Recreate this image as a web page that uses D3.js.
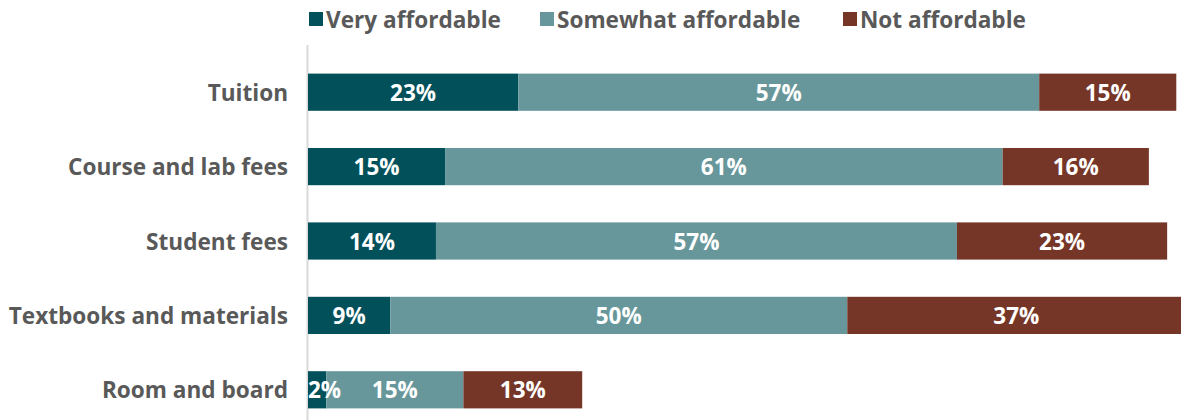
<!DOCTYPE html>
<html>
<head>
<meta charset="utf-8">
<script src="https://cdn.jsdelivr.net/npm/d3@7"></script>
<style>
  body { margin: 0; background: #fff; }
  text { font-family: "Open Sans", "Noto Sans", sans-serif; font-weight: 700; }
</style>
</head>
<body>
<div id="chart"></div>
<script>
// chart size
const width = 1181;
const height = 420;
const margin = { top: 45, right: 0, bottom: 0, left: 308 };

// data
const categories = ["Tuition", "Course and lab fees", "Student fees", "Textbooks and materials", "Room and board"];
const seriesNames = ["Very affordable", "Somewhat affordable", "Not affordable"];
const veryAffordable = [23, 15, 14, 9, 2];
const somewhatAffordable = [57, 61, 57, 50, 15];
const notAffordable = [15, 16, 23, 37, 13];
const colors = ["#02505A", "#67979B", "#763627"];

const rows = categories.map((c, i) => ({
  cat: c,
  "Very affordable": veryAffordable[i],
  "Somewhat affordable": somewhatAffordable[i],
  "Not affordable": notAffordable[i]
}));

const stacked = d3.stack().keys(seriesNames)(rows);

const svg = d3.select('#chart')
  .append('svg')
  .attr('width', width)
  .attr('height', height);

// x: 0..100 percent, extends past the right edge like the original
const x = d3.scaleLinear()
  .domain([0, 100])
  .range([margin.left, margin.left + 914]);

const y = d3.scaleBand()
  .domain(categories)
  .range([55, 427])
  .paddingInner(0.5)
  .paddingOuter(0.25);

const color = d3.scaleOrdinal().domain(seriesNames).range(colors);

// vertical axis line (drawn first so labels sit on top)
svg.append('line')
  .attr('x1', margin.left - 0.5)
  .attr('x2', margin.left - 0.5)
  .attr('y1', 45)
  .attr('y2', height)
  .attr('stroke', '#d9d9d9')
  .attr('stroke-width', 2);

// bars
svg.append('g').selectAll('g')
  .data(stacked)
  .enter().append('g')
  .attr('fill', d => color(d.key))
  .selectAll('rect')
  .data(d => d)
  .enter().append('rect')
  .attr('x', d => x(d[0]))
  .attr('y', d => y(d.data.cat))
  .attr('width', d => x(d[1]) - x(d[0]))
  .attr('height', y.bandwidth());

// value labels on their own layer, nudged right if they'd spill past the axis
const segments = stacked.flatMap(s => s.map(d => d));
svg.append('g').selectAll('text')
  .data(segments)
  .enter().append('text')
  .attr('x', d => (x(d[0]) + x(d[1])) / 2)
  .attr('y', d => y(d.data.cat) + y.bandwidth() / 2)
  .attr('dy', '0.38em')
  .attr('text-anchor', 'middle')
  .attr('fill', '#fff')
  .style('font-size', '22.5px')
  .text(d => (d[1] - d[0]) + '%')
  .each(function(d) {
    const w = this.getComputedTextLength();
    const cx = (x(d[0]) + x(d[1])) / 2;
    if (cx - w / 2 < margin.left) d3.select(this).attr('x', margin.left + w / 2);
  });

// category labels
const yAxis = d3.axisLeft(y).tickSize(0).tickPadding(20);
const yg = svg.append('g')
  .attr('transform', `translate(${margin.left},0)`)
  .call(yAxis);
yg.select('.domain').remove();
yg.selectAll('text')
  .attr('fill', '#595959')
  .attr('dy', '0.38em')
  .style('font-size', '22.6px')
  .style('font-family', '"Open Sans", sans-serif')
  .style('font-weight', 700);

// legend
const legendX = [309, 540, 843];
const legend = svg.selectAll('.legend')
  .data(seriesNames)
  .enter().append('g')
  .attr('transform', (d, i) => `translate(${legendX[i]},12)`);

legend.append('rect')
  .attr('width', 14)
  .attr('height', 14)
  .attr('fill', d => color(d));

legend.append('text')
  .attr('x', 17)
  .attr('y', 7)
  .attr('dy', '0.38em')
  .attr('fill', '#595959')
  .style('font-size', '22.6px')
  .text(d => d);
</script>
</body>
</html>
